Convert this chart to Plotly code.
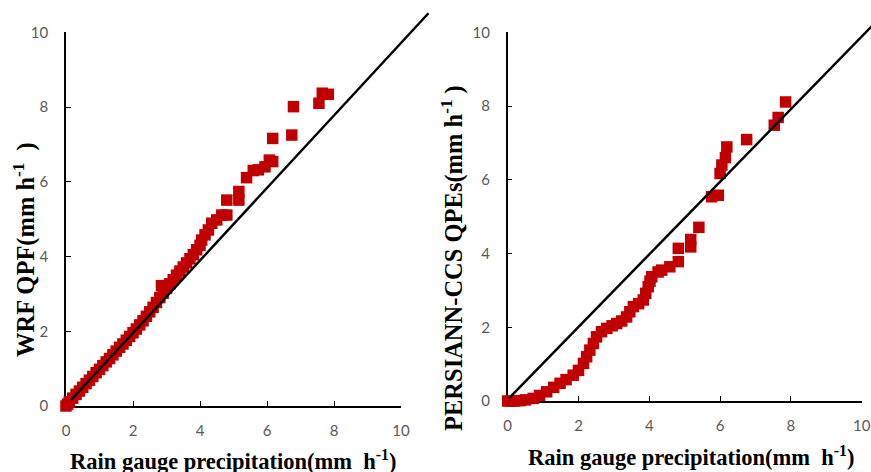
import plotly.graph_objects as go

W, H = 871, 472

# ---------------- data ----------------
# Left: WRF QPF vs rain gauge (sorted, Q-Q style)
wrf_gauge = [0, 0.05, 0.1, 0.2, 0.3, 0.4, 0.5, 0.6, 0.7, 0.8, 0.9, 1.0, 1.1, 1.2,
             1.3, 1.4, 1.5, 1.6, 1.7, 1.8, 1.9, 2.0, 2.1, 2.2, 2.3, 2.4, 2.5, 2.6, 2.7,
             2.8, 2.85, 2.9, 3.0, 3.1, 3.2, 3.3, 3.4, 3.5, 3.6, 3.7, 3.8, 3.9, 4.0,
             4.05, 4.15, 4.25, 4.35, 4.5, 4.65, 4.8, 4.8, 5.16, 5.16, 5.39, 5.59,
             5.74, 5.94, 6.07, 6.17, 6.17, 6.74, 6.79, 7.55, 7.65, 7.83]
wrf_qpf = [0, 0.05, 0.11, 0.21, 0.31, 0.40, 0.50, 0.60, 0.69, 0.79, 0.89, 0.98, 1.08,
           1.18, 1.27, 1.37, 1.47, 1.57, 1.66, 1.76, 1.86, 1.96, 2.06, 2.17, 2.28,
           2.40, 2.52, 2.64, 2.77, 2.90, 3.22, 3.02, 3.15, 3.27, 3.38, 3.50, 3.61,
           3.72, 3.83, 3.94, 4.05, 4.18, 4.30, 4.44, 4.58, 4.71, 4.89, 4.98, 5.11,
           5.11, 5.51, 5.51, 5.74, 6.11, 6.30, 6.32, 6.40, 6.58, 6.54, 7.16, 7.25,
           8.01, 8.10, 8.37, 8.34]

# Right: PERSIANN-CCS QPEs vs rain gauge
pcc_gauge = [0, 0.1, 0.2, 0.35, 0.5, 0.72, 0.9, 1.1, 1.3, 1.48, 1.65, 1.85, 2.0, 2.14,
             2.23, 2.32, 2.42, 2.51, 2.65, 2.8, 2.95, 3.08, 3.22, 3.36, 3.45, 3.55,
             3.7, 3.83, 3.9, 3.97, 4.02, 4.07, 4.25, 4.35, 4.58, 4.82, 4.82, 5.17,
             5.17, 5.40, 5.76, 5.95, 6.0, 6.05, 6.15, 6.19, 6.75, 7.53, 7.64, 7.85]
pcc_qpe = [0, 0, 0, 0.01, 0.03, 0.07, 0.15, 0.25, 0.37, 0.48, 0.58, 0.70, 0.83, 1.02,
           1.2, 1.38, 1.56, 1.74, 1.88, 1.97, 2.04, 2.1, 2.17, 2.28, 2.42, 2.56,
           2.64, 2.74, 2.92, 3.1, 3.25, 3.37, 3.5, 3.55, 3.64, 3.78, 4.14, 4.18,
           4.38, 4.71, 5.54, 5.58, 6.17, 6.40, 6.60, 6.89, 7.09, 7.48, 7.69, 8.11]

# 1:1 reference lines (as drawn)
wrf_ref_x = [0.15, 10.82]
wrf_ref_y = [0.16, 10.51]
pcc_ref_x = [0.04, 10.3]
pcc_ref_y = [0.08, 10.18]

axis_ticks = [0, 2, 4, 6, 8, 10]
x_title = "<b>Rain gauge precipitation(mm&nbsp; h<sup>-1</sup>)</b>"
y_titles = ["<b>WRF QPF(mm h<sup>-1</sup>&nbsp;&nbsp;)</b>",
            "<b>PERSIANN-CCS QPEs(mm h<sup>-1</sup>&nbsp;)</b>"]

# ---------------- layout geometry (pixels) ----------------
# panel: (x px of 0, x px of 10, y px of 0, y px of 10)
panels = [(66.0, 401.0, 406.0, 32.3), (507.7, 861.7, 401.0, 32.3)]

RED = "#C00000"
TICKFONT = dict(family="Lato", size=15, color="#595959")
XTITLEFONT = dict(family="Liberation Serif", size=22.5, color="black")
YTITLEFONT = dict(family="Liberation Serif", size=24.5, color="black")

fig = go.Figure()
layout = dict(width=W, height=H, margin=dict(l=0, r=0, t=0, b=0, pad=0, autoexpand=False),
              paper_bgcolor="white", plot_bgcolor="rgba(0,0,0,0)", showlegend=False)

datasets = [(wrf_gauge, wrf_qpf, wrf_ref_x, wrf_ref_y), (pcc_gauge, pcc_qpe, pcc_ref_x, pcc_ref_y)]

def kx(n):
    return "xaxis" if n == 1 else f"xaxis{n}"

def ky(n):
    return "yaxis" if n == 1 else f"yaxis{n}"

for i, ((x0, x10, y0, y10), (gx, gy, rx, ry)) in enumerate(zip(panels, datasets)):
    ix, iy = 2 * i + 1, 2 * i + 2      # visible axes
    ox, oy = 2 * i + 5, 2 * i + 6      # overlay (full-figure) data axes
    common = dict(range=[0, 10], tickvals=axis_ticks, ticks="inside", ticklen=5,
                  tickwidth=1.3, tickcolor="black", showline=True, linecolor="black",
                  linewidth=1.5, showgrid=False, zeroline=False, tickfont=TICKFONT,
                  fixedrange=True, automargin=False)
    layout[kx(ix)] = dict(common, domain=[x0 / W, x10 / W], anchor=f"y{iy}", ticklabelstandoff=10)
    layout[ky(iy)] = dict(common, domain=[(H - y0) / H, (H - y10) / H], anchor=f"x{ix}", ticklabelstandoff=13)
    sx = (x10 - x0) / 10.0
    sy = (y0 - y10) / 10.0
    layout[kx(ox)] = dict(domain=[0, 1], range=[(0 - x0) / sx, (W - x0) / sx], anchor=f"y{oy}",
                          visible=False, fixedrange=True, automargin=False)
    layout[ky(oy)] = dict(domain=[0, 1], range=[(y0 - H) / sy, (y0 - 0) / sy], anchor=f"x{ox}",
                          visible=False, fixedrange=True, automargin=False)
    fig.add_trace(go.Scatter(x=[None], y=[None], xaxis=f"x{ix}", yaxis=f"y{iy}", hoverinfo="skip"))
    fig.add_trace(go.Scatter(x=gx, y=gy, mode="markers", xaxis=f"x{ox}", yaxis=f"y{oy}",
                             marker=dict(symbol="square", size=11.5, color=RED, line=dict(width=0))))
    fig.add_trace(go.Scatter(x=rx, y=ry, mode="lines", xaxis=f"x{ox}", yaxis=f"y{oy}",
                             line=dict(color="black", width=2.5)))

annotations = [
    dict(text=y_titles[0], x=25 / W, y=(H - 250) / H, textangle=-90, font=YTITLEFONT),
    dict(text=y_titles[1], x=452 / W, y=(H - 258) / H, textangle=-90, font=YTITLEFONT),
    dict(text=x_title, x=233 / W, y=(H - 460) / H, font=XTITLEFONT),
    dict(text=x_title, x=691 / W, y=(H - 456) / H, font=XTITLEFONT),
]
layout["annotations"] = [dict(a, xref="paper", yref="paper", showarrow=False,
                              xanchor="center", yanchor="middle")
                         for a in annotations]
fig.update_layout(**layout)
fig.write_html("out.html")
